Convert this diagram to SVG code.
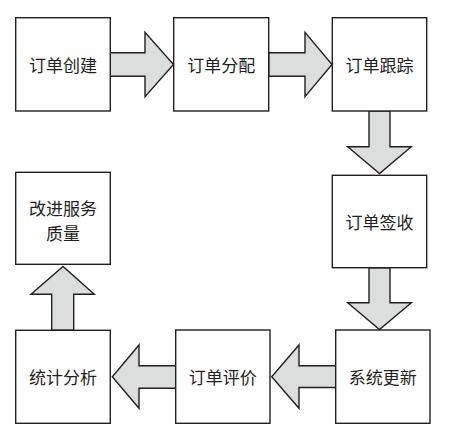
<svg xmlns="http://www.w3.org/2000/svg" width="453" height="434" viewBox="0 0 453 434">
<style>
.box{fill:#fff;stroke:#231f20;stroke-width:1.4}
.arr{fill:#dcdddd;stroke:#231f20;stroke-width:1.4;stroke-linejoin:miter}
text{font-family:"Noto Sans CJK SC","Noto Sans CJK TC",sans-serif;font-size:17px;fill:#231f20;text-anchor:middle;dominant-baseline:central}
</style>
<rect width="453" height="434" fill="#fff"/>
<g id="connectors">
<polygon class="arr" points="110.3,52.7 145,52.7 145,32.3 173.5,64.5 145,96.7 145,76.3 110.3,76.3"/>
<polygon class="arr" points="268.7,52.7 305,52.7 305,32.3 332,64.5 305,96.7 305,76.3 268.7,76.3"/>
<polygon class="arr" points="369,111 390,111 390,146.7 411.3,146.7 379.5,173.5 347.7,146.7 369,146.7"/>
<polygon class="arr" points="369,267.7 390,267.7 390,302.7 411.3,302.7 379.5,329.5 347.7,302.7 369,302.7"/>
<polygon class="arr" points="335.7,365.7 299,365.7 299,345 271.7,376.7 299,408.3 299,387.5 335.7,387.5"/>
<polygon class="arr" points="175.7,365.7 139,365.7 139,345 112.3,376.7 139,408.3 139,388.3 175.7,388.3"/>
<polygon class="arr" points="51.7,330.3 51.7,294.3 31,294.3 63,266.5 94.3,294.3 73.7,294.3 73.7,330.3"/>
</g>
<g id="n1"><rect class="box" x="15.7" y="17.7" width="94.6" height="93.3"/><text x="63" y="64.5">订单创建</text></g>
<g id="n2"><rect class="box" x="173.7" y="17.7" width="95" height="93.3"/><text x="221.2" y="64.5">订单分配</text></g>
<g id="n3"><rect class="box" x="332.3" y="17.7" width="94.4" height="93.3"/><text x="379.5" y="64.5">订单跟踪</text></g>
<g id="n4"><rect class="box" x="332.3" y="175.3" width="94.4" height="92.4"/><text x="379.5" y="221.5">订单签收</text></g>
<g id="n5"><rect class="box" x="335.7" y="330" width="94.3" height="93.3"/><text x="382.8" y="376.7">系统更新</text></g>
<g id="n6"><rect class="box" x="175.7" y="330" width="94.3" height="93.3"/><text x="222.8" y="376.7">订单评价</text></g>
<g id="n7"><rect class="box" x="15.7" y="330.3" width="94.6" height="93"/><text x="63" y="376.7">统计分析</text></g>
<g id="n8"><rect class="box" x="15.7" y="172.3" width="94.6" height="92"/><text x="63" y="207.5">改进服务</text><text x="63" y="232.5">质量</text></g>
</svg>
